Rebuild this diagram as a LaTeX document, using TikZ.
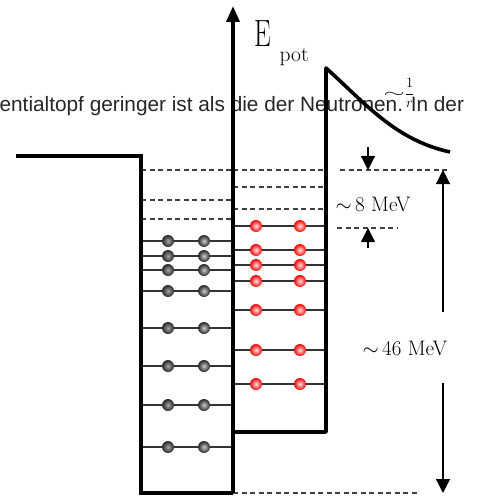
\documentclass[tikz,border=0pt]{standalone}
\usepackage{fontspec}
\newfontfamily\websans{Liberation Sans}
\usetikzlibrary{arrows.meta}

\begin{document}
\begin{tikzpicture}[x=1pt, y=-1pt, line width=1.2pt,
  wall/.style={line width=3.6pt},
  level/.style={line width=1.1pt, black!80},
  gap/.style={line width=1.2pt, black!75, dash pattern=on 5pt off 3.5pt},
  tip/.style={-{Triangle[width=14pt,length=14pt]}},
  neutron/.style={circle, minimum size=12pt, inner sep=0pt, shading=radial, inner color=black!#1, outer color=black!85},
  proton/.style={circle, minimum size=12pt, inner sep=0pt, shading=radial, inner color=red!10, outer color=red},
  lbl/.style={anchor=base west, inner sep=0pt}]
  \useasboundingbox (0,0) rectangle (479,497);
  \node[lbl, font=\websans\fontsize{20.8}{20.8}\selectfont, text=black!85] (txt) at (-1,112)
    {entialtopf geringer ist als die der Neutronen. In der};
  \foreach \y in {170,200,219} \draw[gap] (141,\y) -- (233,\y);
  \foreach \y in {170,187,209} \draw[gap] (233,\y) -- (326,\y);
  \draw[gap] (340,170) -- (447,170);
  \draw[gap] (337,228) -- (397,228);
  \draw[gap] (233,493) -- (417,493);
  \foreach \y in {241,256,270,291,328,366,405,447} {
    \draw[level] (141,\y) -- (233,\y);
    \node[neutron=35] (na\y) at (168,\y) {};
    \node[neutron=20] (nb\y) at (204,\y) {};
  }
  \foreach \y in {226,250,265,281,310,350,384} {
    \draw[level] (233,\y) -- (326,\y);
    \node[proton] (pa\y) at (256,\y) {};
    \node[proton] (pb\y) at (300,\y) {};
  }
  \draw[wall] (16,156) -- (141,156) -- (141,493) -- (233,493);
  \draw[wall, line join=round] (233,432) -- (326,432) -- (326,68)
    .. controls (365,103) and (395,140) .. (450,152);
  \draw[wall, -{Triangle[width=13pt,length=16pt]}] (233,493) -- (233,6);
  \node[lbl, font=\fontsize{38}{38}\selectfont] (epot) at (254,47) {\scalebox{0.7}[1]{E}};
  \node[lbl, font=\fontsize{21.5}{21.5}\selectfont] (pot) at (279,62) {pot};
  \node[anchor=west, inner sep=0pt, font=\fontsize{15}{15}\selectfont] (slope) at (383,93)
    {\scalebox{1.9}[1]{$\sim$}$\displaystyle\frac{1}{r}$};
  \node[lbl, font=\fontsize{21}{21}\selectfont] (mev8) at (335,211) {$\sim$\,8 MeV};
  \node[lbl, font=\fontsize{21}{21}\selectfont] (mev46) at (362,355) {$\sim$\,46 MeV};
  \coordinate (g8top) at (368,170);
  \coordinate (g8bot) at (368,228);
  \coordinate (g46top) at (443,170);
  \coordinate (g46bot) at (443,493);
  \draw[tip] (368,147) -- (g8top);
  \draw[tip] (368,248) -- (g8bot);
  \draw[tip] (443,312) -- (g46top);
  \draw[tip] (443,383) -- (g46bot);
\end{tikzpicture}
\end{document}
